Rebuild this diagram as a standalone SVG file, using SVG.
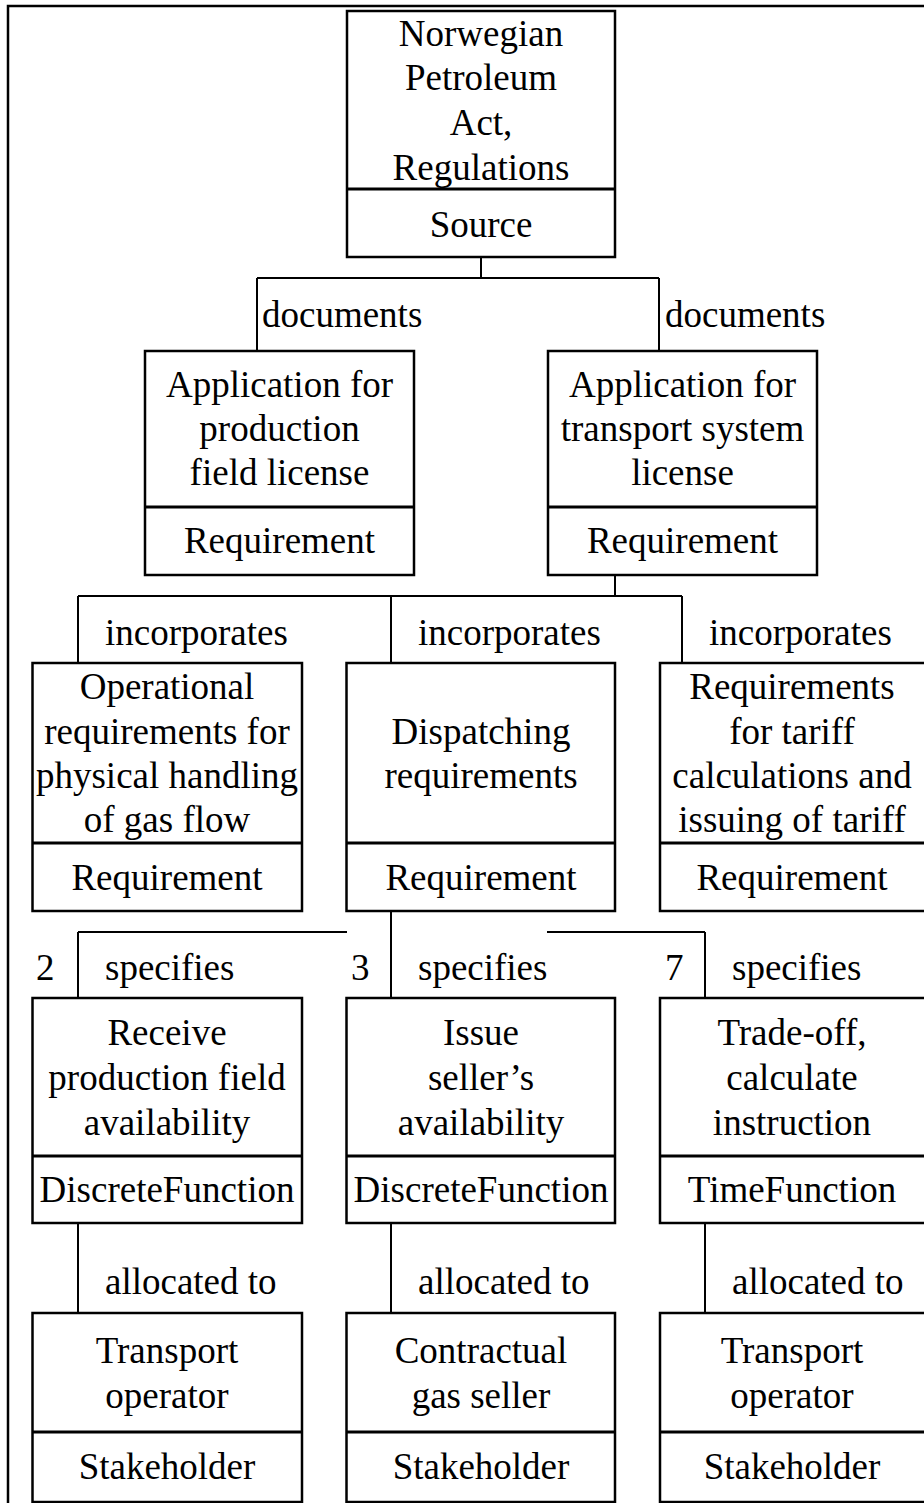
<svg xmlns="http://www.w3.org/2000/svg" width="924" height="1503" viewBox="0 0 924 1503">
  <style>
    text { font-family: "Liberation Serif", "Times New Roman", serif; font-size: 37px; fill: #000; }
    .c { text-anchor: middle; }
    .box { fill: #fff; stroke: #000; stroke-width: 2.5; }
    .div { stroke: #000; stroke-width: 3; }
    .conn { fill: none; stroke: #000; stroke-width: 2; }
  </style>
  <rect x="0" y="0" width="924" height="1503" fill="#fff"/>
  <!-- outer frame -->
  <rect x="8" y="6" width="940" height="1520" fill="none" stroke="#000" stroke-width="2.5"/>

  <g id="connectors">
    <path class="conn" d="M481 257 V278 M257 278 H659 M257 278 V351 M659 278 V351"/>
    <path class="conn" d="M615 575 V596 M78 596 H682 M78 596 V663 M391 596 V663 M682 596 V663"/>
    <path class="conn" d="M391 911 V998 M78 932 H347 M547 932 H705 M78 932 V998 M705 932 V998"/>
    <path class="conn" d="M78 1223 V1313 M391 1223 V1313 M705 1223 V1313"/>
    <text x="262" y="327">documents</text>
    <text x="665" y="327">documents</text>
    <text x="105" y="645">incorporates</text>
    <text x="418" y="645">incorporates</text>
    <text x="709" y="645">incorporates</text>
    <text x="36" y="980">2</text>
    <text x="105" y="980">specifies</text>
    <text x="351" y="980">3</text>
    <text x="418" y="980">specifies</text>
    <text x="665" y="980">7</text>
    <text x="732" y="980">specifies</text>
    <text x="105" y="1294">allocated to</text>
    <text x="418" y="1294">allocated to</text>
    <text x="732" y="1294">allocated to</text>
  </g>

  <g id="source">
    <rect class="box" x="347" y="11" width="268" height="246"/>
    <line class="div" x1="347" y1="189" x2="615" y2="189"/>
    <text class="c" x="481" y="46">Norwegian</text>
    <text class="c" x="481" y="90">Petroleum</text>
    <text class="c" x="481" y="135">Act,</text>
    <text class="c" x="481" y="180">Regulations</text>
    <text class="c" x="481" y="237">Source</text>
  </g>

  <g id="req-production-license">
    <rect class="box" x="145" y="351" width="269" height="224"/>
    <line class="div" x1="145" y1="507" x2="414" y2="507"/>
    <text class="c" x="279.5" y="397">Application for</text>
    <text class="c" x="279.5" y="441">production</text>
    <text class="c" x="279.5" y="485">field license</text>
    <text class="c" x="279.5" y="553">Requirement</text>
  </g>

  <g id="req-transport-license">
    <rect class="box" x="548" y="351" width="269" height="224"/>
    <line class="div" x1="548" y1="507" x2="817" y2="507"/>
    <text class="c" x="682.5" y="397">Application for</text>
    <text class="c" x="682.5" y="441">transport system</text>
    <text class="c" x="682.5" y="485">license</text>
    <text class="c" x="682.5" y="553">Requirement</text>
  </g>

  <g id="req-operational">
    <rect class="box" x="32.5" y="663" width="269.5" height="248"/>
    <line class="div" x1="32.5" y1="843" x2="302" y2="843"/>
    <text class="c" x="167" y="699">Operational</text>
    <text class="c" x="167" y="744">requirements for</text>
    <text class="c" x="167" y="788">physical handling</text>
    <text class="c" x="167" y="832">of gas flow</text>
    <text class="c" x="167" y="890">Requirement</text>
  </g>

  <g id="req-dispatching">
    <rect class="box" x="346.5" y="663" width="268.5" height="248"/>
    <line class="div" x1="346.5" y1="843" x2="615" y2="843"/>
    <text class="c" x="481" y="744">Dispatching</text>
    <text class="c" x="481" y="788">requirements</text>
    <text class="c" x="481" y="890">Requirement</text>
  </g>

  <g id="req-tariff">
    <rect class="box" x="660" y="663" width="268" height="248"/>
    <line class="div" x1="660" y1="843" x2="928" y2="843"/>
    <text class="c" x="792" y="699">Requirements</text>
    <text class="c" x="792" y="744">for tariff</text>
    <text class="c" x="792" y="788">calculations and</text>
    <text class="c" x="792" y="832">issuing of tariff</text>
    <text class="c" x="792" y="890">Requirement</text>
  </g>

  <g id="fn-receive">
    <rect class="box" x="32.5" y="998" width="269.5" height="225"/>
    <line class="div" x1="32.5" y1="1156" x2="302" y2="1156"/>
    <text class="c" x="167" y="1045">Receive</text>
    <text class="c" x="167" y="1090">production field</text>
    <text class="c" x="167" y="1135">availability</text>
    <text class="c" x="167" y="1202">DiscreteFunction</text>
  </g>

  <g id="fn-issue">
    <rect class="box" x="346.5" y="998" width="268.5" height="225"/>
    <line class="div" x1="346.5" y1="1156" x2="615" y2="1156"/>
    <text class="c" x="481" y="1045">Issue</text>
    <text class="c" x="481" y="1090">seller’s</text>
    <text class="c" x="481" y="1135">availability</text>
    <text class="c" x="481" y="1202">DiscreteFunction</text>
  </g>

  <g id="fn-tradeoff">
    <rect class="box" x="660" y="998" width="268" height="225"/>
    <line class="div" x1="660" y1="1156" x2="928" y2="1156"/>
    <text class="c" x="792" y="1045">Trade-off,</text>
    <text class="c" x="792" y="1090">calculate</text>
    <text class="c" x="792" y="1135">instruction</text>
    <text class="c" x="792" y="1202">TimeFunction</text>
  </g>

  <g id="sh-transport-1">
    <rect class="box" x="32.5" y="1313" width="269.5" height="189"/>
    <line class="div" x1="32.5" y1="1432" x2="302" y2="1432"/>
    <text class="c" x="167" y="1363">Transport</text>
    <text class="c" x="167" y="1408">operator</text>
    <text class="c" x="167" y="1479">Stakeholder</text>
  </g>

  <g id="sh-seller">
    <rect class="box" x="346.5" y="1313" width="268.5" height="189"/>
    <line class="div" x1="346.5" y1="1432" x2="615" y2="1432"/>
    <text class="c" x="481" y="1363">Contractual</text>
    <text class="c" x="481" y="1408">gas seller</text>
    <text class="c" x="481" y="1479">Stakeholder</text>
  </g>

  <g id="sh-transport-2">
    <rect class="box" x="660" y="1313" width="268" height="189"/>
    <line class="div" x1="660" y1="1432" x2="928" y2="1432"/>
    <text class="c" x="792" y="1363">Transport</text>
    <text class="c" x="792" y="1408">operator</text>
    <text class="c" x="792" y="1479">Stakeholder</text>
  </g>
</svg>
